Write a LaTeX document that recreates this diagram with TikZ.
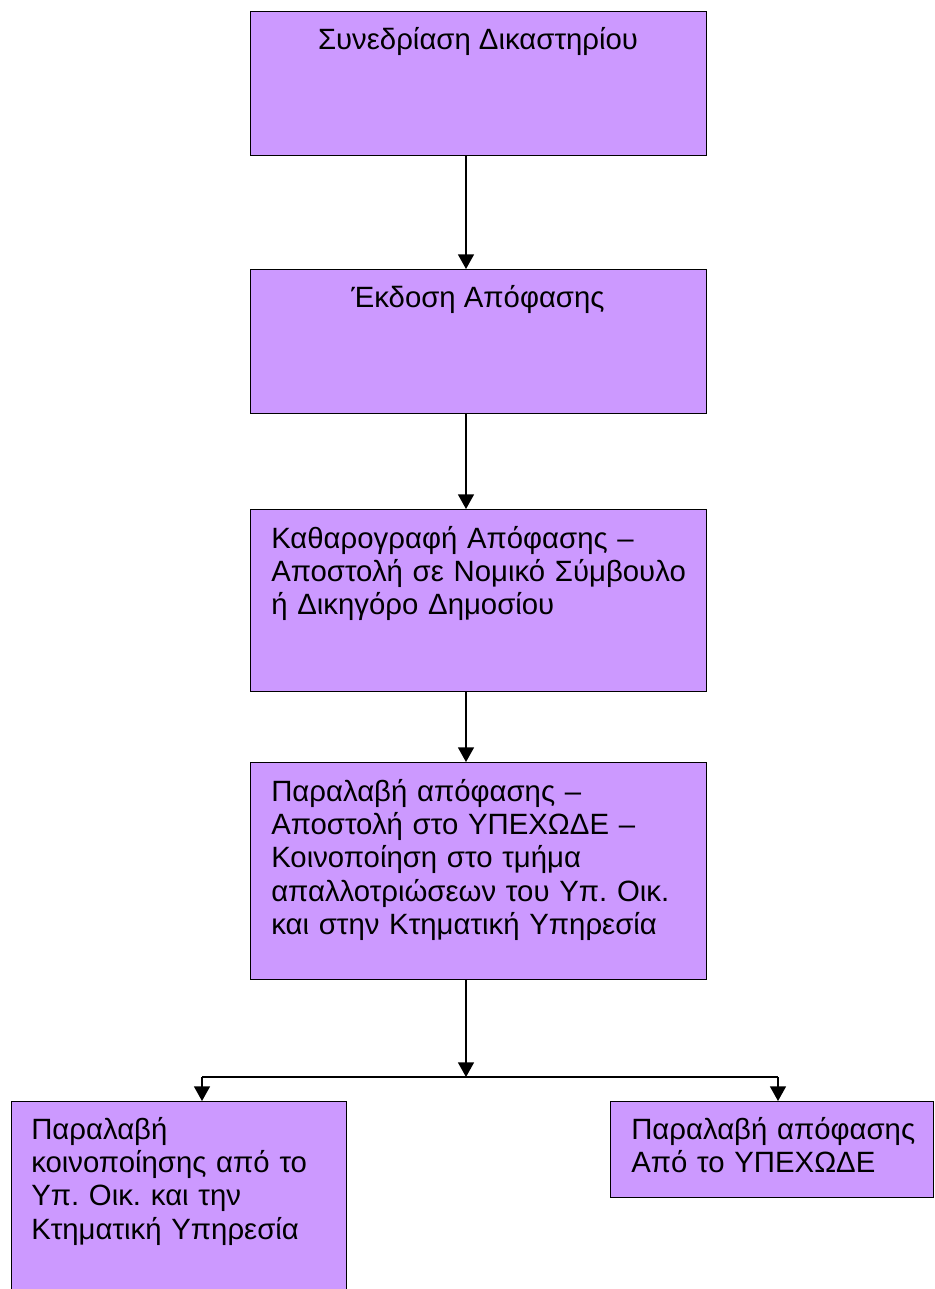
\documentclass[tikz,border=0pt]{standalone}
\usepackage{fontspec}
\setmainfont{Liberation Sans}
\frenchspacing
\usetikzlibrary{arrows.meta}
\definecolor{boxfill}{HTML}{CC99FF}
\begin{document}
\begin{tikzpicture}[x=0.75pt,y=-0.75pt,
  box/.style n args={2}{draw=black, fill=boxfill, line width=1.1pt, inner sep=0pt,
    anchor=north west, minimum width=#1*0.75pt, minimum height=#2*0.75pt},
  txt/.style={inner sep=0pt, font=\fontsize{22}{25}\selectfont, align=left,
    text width=#1*0.75pt},
  ctxt/.style={inner sep=0pt, font=\fontsize{22}{25}\selectfont, anchor=base},
  conn/.style={line width=1.1pt, -{Triangle[width=12pt,length=11pt]}},
  link/.style={line width=1.1pt}]
\useasboundingbox (0,0) rectangle (935,1289);

% process boxes
\node[box={456}{144}] (b1) at (250,11) {};
\node[box={456}{144}] (b2) at (250,269) {};
\node[box={456}{182}] (b3) at (250,509) {};
\node[box={456}{217}] (b4) at (250,762) {};
\node[box={335}{192}] (b5) at (11,1101) {};
\node[box={323}{96}] (b6) at (610,1101) {};

% box texts
\node[ctxt] (t1) at (478,49) {Συνεδρίαση Δικαστηρίου};
\node[ctxt] (t2) at (478,307) {Έκδοση Απόφασης};
\node[txt=430, anchor=base west] (t3) at (271,548)
  {Καθαρογραφή Απόφασης –\\Αποστολή σε Νομικό Σύμβουλο\\ή Δικηγόρο Δημοσίου};
\node[txt=430, anchor=base west] (t4) at (271,801)
  {Παραλαβή απόφασης –\\Αποστολή στο ΥΠΕΧΩΔΕ –\\Κοινοποίηση στο τμήμα\\απαλλοτριώσεων του Υπ. Οικ.\\και στην Κτηματική Υπηρεσία};
\node[txt=310, anchor=base west] (t5) at (31,1139)
  {Παραλαβή\\κοινοποίησης από το\\Υπ. Οικ. και την\\Κτηματική Υπηρεσία};
\node[txt=300, anchor=base west] (t6) at (631,1139)
  {Παραλαβή απόφασης\\Από το ΥΠΕΧΩΔΕ};

% connectors
\coordinate (j) at (466,1077);
\coordinate (jl) at (202,1077);
\coordinate (jr) at (778,1077);
\draw[conn] (b1.south -| j) -- (b2.north -| j);
\draw[conn] (b2.south -| j) -- (b3.north -| j);
\draw[conn] (b3.south -| j) -- (b4.north -| j);
\draw[conn] (b4.south -| j) -- (j);
\draw[link] (jl) -- (jr);
\draw[conn] (jl) -- (b5.north -| jl);
\draw[conn] (jr) -- (b6.north -| jr);
\end{tikzpicture}
\end{document}
